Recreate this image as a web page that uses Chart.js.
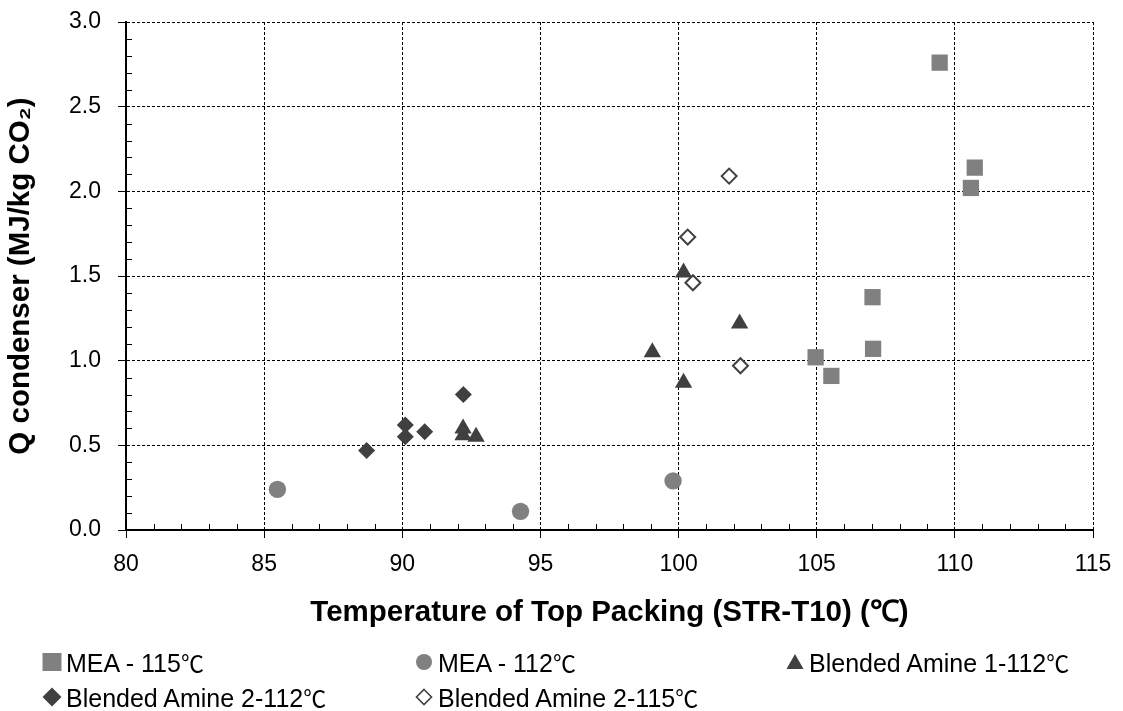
<!DOCTYPE html>
<html><head><meta charset="utf-8">
<script src="https://cdn.jsdelivr.net/npm/chart.js@4.4.0/dist/chart.umd.min.js"></script>
<style>
html,body{margin:0;padding:0;background:#fff;width:1123px;height:711px;overflow:hidden}
#wrap{position:absolute;left:0;top:0;width:1123px;height:640px}
#legend{position:absolute;left:0;top:0;width:1123px;height:711px;pointer-events:none;font-family:"Liberation Sans",Arial,sans-serif;font-size:25px;color:#000}
.item{position:absolute;display:flex;align-items:center;white-space:nowrap;height:30px}
.item svg{margin-right:4px}
.deg{font-family:"Noto Sans CJK SC","Liberation Sans",sans-serif;font-size:23px}
</style></head><body>
<div id="wrap"><canvas id="c" width="1123" height="640"></canvas></div>
<div id="legend"></div>
<script>
// ---- data ----
const seriesNames = ['MEA - 115℃', 'MEA - 112℃', 'Blended Amine 1-112℃', 'Blended Amine 2-112℃', 'Blended Amine 2-115℃'];
const mea115X = [109.45, 110.72, 110.58, 107.02, 107.04, 104.96, 105.53];
const mea115Y = [2.76, 2.14, 2.02, 1.375, 1.07, 1.02, 0.91];
const mea112X = [85.48, 94.28, 99.8];
const mea112Y = [0.24, 0.11, 0.29];
const ba1_112X = [92.2, 92.2, 92.67, 100.18, 102.21, 99.05, 100.18];
const ba1_112Y = [0.60, 0.56, 0.55, 1.52, 1.22, 1.05, 0.87];
const ba2_112X = [92.21, 90.11, 90.11, 90.81, 88.71];
const ba2_112Y = [0.80, 0.62, 0.55, 0.58, 0.47];
const ba2_115X = [101.83, 100.33, 100.52, 102.24];
const ba2_115Y = [2.09, 1.73, 1.46, 0.97];
const xTicks = [80, 85, 90, 95, 100, 105, 110, 115];
const yTicks = [0.0, 0.5, 1.0, 1.5, 2.0, 2.5, 3.0];
const xTitle = 'Temperature of Top Packing (STR-T10) (℃)';
const yTitle = 'Q condenser (MJ/kg CO₂)';

const pts = (xs, ys) => xs.map((x, i) => ({x: x, y: ys[i]}));
const FONT = '"Liberation Sans", Arial, sans-serif';

const styles = [
  {pointStyle: 'rect', pointRadius: 11.5, backgroundColor: '#808080', borderColor: '#808080', borderWidth: 0},
  {pointStyle: 'circle', pointRadius: 8.7, backgroundColor: '#808080', borderColor: '#808080', borderWidth: 0},
  {pointStyle: 'triangle', pointRadius: 10, backgroundColor: '#404040', borderColor: '#404040', borderWidth: 0},
  {pointStyle: 'rectRot', pointRadius: 8.5, backgroundColor: '#404040', borderColor: '#404040', borderWidth: 0},
  {pointStyle: 'rectRot', pointRadius: 7.5, backgroundColor: '#ffffff', borderColor: '#404040', borderWidth: 2}
];
const dataSets = [pts(mea115X, mea115Y), pts(mea112X, mea112Y), pts(ba1_112X, ba1_112Y), pts(ba2_112X, ba2_112Y), pts(ba2_115X, ba2_115Y)];

const minorTicks = {
  id: 'minorTicks',
  afterDraw(chart) {
    const {ctx, scales: {x, y}, chartArea: a} = chart;
    ctx.save();
    ctx.strokeStyle = '#000';
    ctx.lineWidth = 1;
    ctx.beginPath();
    for (let i = 80; i <= 115; i++) {
      if (i % 5 === 0) continue;
      const px = Math.round(x.getPixelForValue(i)) + 0.5;
      ctx.moveTo(px, a.bottom); ctx.lineTo(px, a.bottom - 6);
    }
    for (let j = 0; j <= 30; j++) {
      if (j % 5 === 0) continue;
      const py = Math.round(y.getPixelForValue(j / 10)) + 0.5;
      ctx.moveTo(a.left, py); ctx.lineTo(a.left + 6, py);
    }
    ctx.stroke();
    ctx.restore();
  }
};

const chart = new Chart(document.getElementById('c'), {
  type: 'scatter',
  data: {
    datasets: dataSets.map((d, i) => Object.assign({label: seriesNames[i], data: d, pointHoverRadius: styles[i].pointRadius}, styles[i]))
  },
  options: {
    responsive: false,
    animation: false,
    layout: {padding: {top: 22, right: 30, left: 0, bottom: 0}},
    plugins: {legend: {display: false}, tooltip: {enabled: false}},
    scales: {
      x: {
        type: 'linear', min: 80, max: 115,
        afterBuildTicks: s => { s.ticks = xTicks.map(v => ({value: v})); },
        afterFit: s => { s.height = 110; s.paddingLeft = 0; s.paddingRight = 20; },
        ticks: {font: {family: FONT, size: 23}, color: '#000', padding: 13, callback: v => String(v)},
        grid: {color: '#000', lineWidth: 1, tickLength: 8, tickColor: '#000'},
        border: {display: true, color: '#000', width: 2, dash: [3, 2]},
        title: {display: true, text: xTitle, color: '#000', font: {family: FONT, size: 29.5, weight: 'bold'}, padding: {top: 0, bottom: 9}}
      },
      y: {
        type: 'linear', min: 0, max: 3,
        afterBuildTicks: s => { s.ticks = yTicks.map(v => ({value: v})); },
        afterFit: s => { s.width = 126; s.paddingTop = 10; s.paddingBottom = 10; },
        ticks: {font: {family: FONT, size: 23}, color: '#000', padding: 17, callback: v => Number(v).toFixed(1)},
        grid: {color: '#000', lineWidth: 1, tickLength: 8, tickColor: '#000'},
        border: {display: true, color: '#000', width: 2, dash: [3, 2]},
        title: {display: true, text: yTitle, color: '#000', font: {family: FONT, size: 29.5, weight: 'bold'}, padding: {top: 3, bottom: 0}}
      }
    }
  },
  plugins: [minorTicks]
});

// ---- legend (HTML, built from the datasets) ----
const legendPos = [[42, 647], [414, 647], [785, 647], [42, 682], [414, 682]];
function markerSvg(i) {
  const s = styles[i];
  let shape = '';
  if (s.pointStyle === 'rect') shape = '<rect x="0.5" y="1" width="19" height="18" fill="' + s.backgroundColor + '"/>';
  else if (s.pointStyle === 'circle') shape = '<circle cx="10" cy="10" r="8" fill="' + s.backgroundColor + '"/>';
  else if (s.pointStyle === 'triangle') shape = '<polygon points="10,2 18.5,17 1.5,17" fill="' + s.backgroundColor + '"/>';
  else if (s.borderWidth > 0) shape = '<polygon points="10,2.5 17.5,10 10,17.5 2.5,10" fill="#fff" stroke="' + s.borderColor + '" stroke-width="1.6"/>';
  else shape = '<polygon points="10,0.5 19.5,10 10,19.5 0.5,10" fill="' + s.backgroundColor + '"/>';
  return '<svg width="20" height="20" viewBox="0 0 20 20">' + shape + '</svg>';
}
const lg = document.getElementById('legend');
chart.data.datasets.forEach((ds, i) => {
  const d = document.createElement('div');
  d.className = 'item';
  d.style.left = legendPos[i][0] + 'px';
  d.style.top = legendPos[i][1] + 'px';
  const parts = ds.label.split('℃');
  d.innerHTML = markerSvg(i) + '<span>' + parts[0] + '<span class="deg">℃</span>' + parts.slice(1).join('℃') + '</span>';
  lg.appendChild(d);
});
</script>
</body></html>
